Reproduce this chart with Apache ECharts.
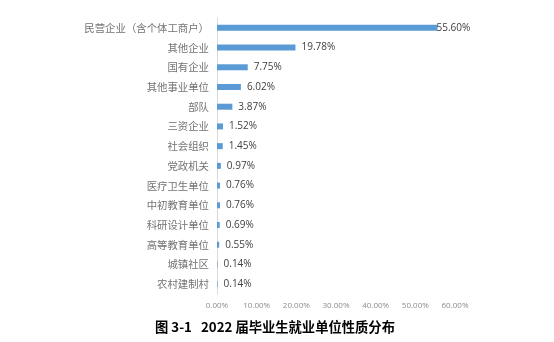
<!DOCTYPE html>
<html><head><meta charset="utf-8">
<script src="https://cdn.jsdelivr.net/npm/echarts@6/dist/echarts.min.js"></script>
<style>html,body{margin:0;padding:0;background:#fff}#c{width:554px;height:342px}</style>
</head><body><div id="c"></div>
<script>
var categories = ['民营企业（含个体工商户）','其他企业','国有企业','其他事业单位','部队','三资企业','社会组织','党政机关','医疗卫生单位','中初教育单位','科研设计单位','高等教育单位','城镇社区','农村建制村'];
var values = [55.60,19.78,7.75,6.02,3.87,1.52,1.45,0.97,0.76,0.76,0.69,0.55,0.14,0.14];
var xTicks = [0,10,20,30,40,50,60];
var titleText = '图 3-1   2022 届毕业生就业单位性质分布';

var chart = echarts.init(document.getElementById('c'));
var data = values.map(function(v, i){
  var d = {value: v};
  if (i === 0) d.label = {distance: -1};
  return d;
});
chart.setOption({
  animation: false,
  title: {text: titleText, left: 155, top: 320, padding: 0, textStyle: {fontFamily: 'Noto Sans CJK SC', fontWeight: 'bold', fontSize: 13.3, color: '#000'}},
  grid: {left: 217, right: 99, top: 18, bottom: 48},
  xAxis: {type: 'value', min: xTicks[0], max: xTicks[xTicks.length-1], interval: 10,
    axisLine: {show: false}, axisTick: {show: false}, splitLine: {show: false},
    axisLabel: {formatter: function(v){return v.toFixed(2)+'%';}, fontSize: 8, color: '#8c8c8c', fontFamily: 'Open Sans', margin: 8}},
  yAxis: {type: 'category', data: categories, inverse: true,
    axisLine: {show: true, lineStyle: {color: '#d9d9d9'}}, axisTick: {show: false},
    axisLabel: {fontSize: 10.4, color: '#737373', fontFamily: 'Noto Sans CJK SC', margin: 8}},
  series: [{type: 'bar', data: data, barWidth: 6, itemStyle: {color: '#5b9bd5'},
    label: {show: true, position: 'right', distance: 6, formatter: function(p){return p.value.toFixed(2)+'%';}, fontSize: 10, color: '#404040', fontFamily: 'Open Sans'}}]
});
</script></body></html>
